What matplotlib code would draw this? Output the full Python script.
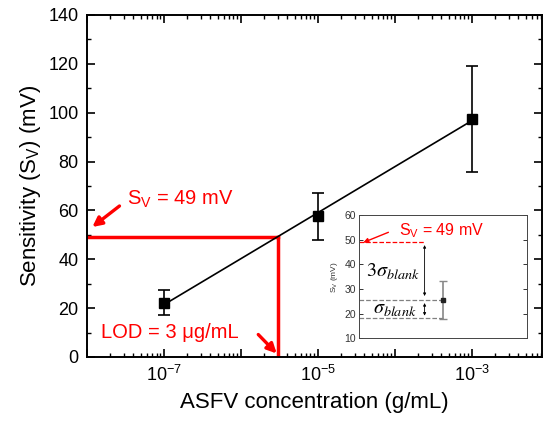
import numpy as np
import matplotlib
matplotlib.use('Agg')
import matplotlib.pyplot as plt
from matplotlib.ticker import FixedLocator, FuncFormatter, LogLocator, MultipleLocator

plt.rcParams['font.family'] = ['Liberation Sans', 'DejaVu Sans']
plt.rcParams['mathtext.default'] = 'regular'

# main data
conc = [1e-7, 1e-5, 1e-3]
sens = [22.2, 57.5, 97.5]
sens_err = [5.1, 9.8, 21.8]
lod_conc = 3e-6
sv_level = 49

# inset data
blank_x = [0.5]
blank_y = [25.5]
blank_err = [7.6]
sigma_top = 25.7
sigma_bot = 18.0

fig = plt.figure(figsize=(5.44, 4.28), dpi=100)
ax = fig.add_axes([0.160, 0.166, 0.836, 0.799])

# linear fit in log(x)
coef = np.polyfit(np.log10(conc), sens, 1)
xfit = np.logspace(np.log10(conc[0]), np.log10(conc[-1]), 50)
ax.plot(xfit, np.polyval(coef, np.log10(xfit)), color='black', lw=1.2, zorder=3)
ax.errorbar(conc, sens, yerr=sens_err, fmt='s', color='black', ms=7,
            capsize=4, elinewidth=1.2, capthick=1.2, zorder=4)

# LOD lines
ax.plot([1e-8, lod_conc], [sv_level, sv_level], color='red', lw=2.5, zorder=2)
ax.plot([lod_conc, lod_conc], [0, sv_level], color='red', lw=2.5, zorder=2)

ax.text(10**-6.79, 64.4, 'S$_V$ = 49 mV', color='red', fontsize=14.5, ha='center', va='center')
ax.annotate('', xy=(10**-7.96, 52.5), xytext=(10**-7.55, 62.5),
            arrowprops=dict(arrowstyle='-|>', color='red', lw=2.4, mutation_scale=14))
ax.text(10**-6.92, 10, 'LOD = 3 μg/mL', color='red', fontsize=14.5, ha='center', va='center')
ax.annotate('', xy=(10**-5.51, 0.6), xytext=(10**-5.80, 10),
            arrowprops=dict(arrowstyle='-|>', color='red', lw=2.4, mutation_scale=14))

ax.set_xscale('log')
ax.set_xlim(1e-8, 10**-2.09)
ax.set_ylim(0, 140)
ax.xaxis.set_major_locator(FixedLocator([1e-8, 1e-7, 1e-6, 1e-5, 1e-4, 1e-3]))
ax.xaxis.set_major_formatter(FuncFormatter(
    lambda v, p: '$10^{%d}$' % round(np.log10(v)) if round(np.log10(v)) in (-7, -5, -3) else ''))
ax.xaxis.set_minor_locator(LogLocator(base=10, subs=np.arange(2, 10), numticks=20))
ax.xaxis.set_minor_formatter(FuncFormatter(lambda v, p: ''))
ax.yaxis.set_major_locator(MultipleLocator(20))
ax.yaxis.set_minor_locator(MultipleLocator(10))
ax.tick_params(which='both', direction='in', top=True, right=True, labelsize=13)
ax.tick_params(which='major', length=6, width=1.2, pad=6)
ax.tick_params(which='minor', length=3, width=1)
for s in ax.spines.values():
    s.set_linewidth(1.4)

ax.set_xlabel('ASFV concentration (g/mL)', fontsize=16, labelpad=5)
ax.set_ylabel('Sensitivity (S$_V$) (mV)', fontsize=16, labelpad=4)

# inset
ins = fig.add_axes([0.660, 0.210, 0.309, 0.287])
ins.set_xlim(0, 1)
ins.set_ylim(10, 60)
ins.set_xticks([])
ins.yaxis.set_major_locator(MultipleLocator(10))
ins.tick_params(which='both', direction='in', right=True, labelsize=7.5, length=3,
                width=0.7, colors='#333333', pad=2)
for s in ins.spines.values():
    s.set_linewidth(0.7)
    s.set_color('#444444')
ins.set_ylabel('S$_V$ (mV)', fontsize=6, labelpad=3, color='#333333')

ins.plot([0, 0.39], [sv_level, sv_level], color='red', lw=0.9, ls='--')
ins.plot([0, 0.5], [sigma_top, sigma_top], color='gray', lw=0.9, ls='--')
ins.plot([0, 0.5], [sigma_bot, sigma_bot], color='gray', lw=0.9, ls='--')
ins.errorbar(blank_x, blank_y, yerr=blank_err, fmt='s', color='#222222', ecolor='#888888',
             ms=3, capsize=3, elinewidth=1.2, capthick=1)
ins.annotate('', xy=(0.39, sigma_top + 0.3), xytext=(0.39, sv_level),
             arrowprops=dict(arrowstyle='<|-|>', color='black', lw=0.6, mutation_scale=4))
ins.annotate('', xy=(0.39, sigma_bot), xytext=(0.39, sigma_top - 0.3),
             arrowprops=dict(arrowstyle='<|-|>', color='black', lw=0.6, mutation_scale=4))
ins.text(0.2, 36.8, r'$\mathrm{3}\mathit{\sigma}_{\mathit{blank}}$', fontsize=14.5,
         ha='center', va='center', math_fontfamily='stix')
ins.text(0.21, 21.6, r'$\mathit{\sigma}_{\mathit{blank}}$', fontsize=14.5,
         ha='center', va='center', math_fontfamily='stix')
ins.text(0.49, 53.9, 'S$_V$ = 49 mV', color='red', fontsize=11.5, ha='center', va='center')
ins.annotate('', xy=(0.01, 48.5), xytext=(0.19, 53.5),
             arrowprops=dict(arrowstyle='-|>', color='red', lw=1.0, mutation_scale=7))

fig.savefig('out.png', dpi=100)
